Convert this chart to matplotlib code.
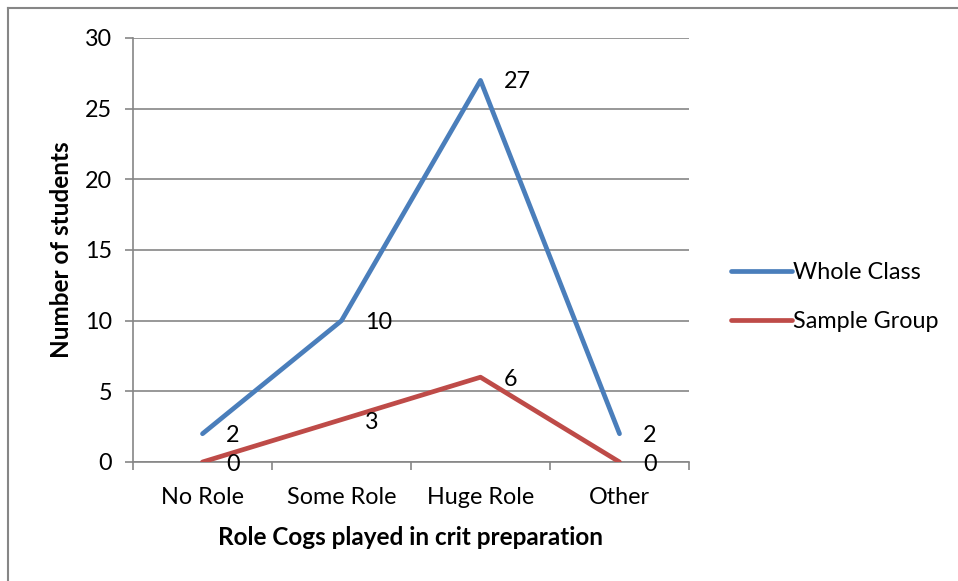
import matplotlib.pyplot as plt
from matplotlib.lines import Line2D

categories = ['No Role', 'Some Role', 'Huge Role', 'Other']
whole_class = [2, 10, 27, 2]
sample_group = [0, 3, 6, 0]

plt.rcParams['font.family'] = ['Lato', 'DejaVu Sans']

fig = plt.figure(figsize=(9.58, 5.81), dpi=100)
ax = fig.add_axes([133 / 958, 1 - 462 / 581, 556 / 958, 424 / 581])

grey = '#868686'
blue = '#4A7EBB'
red = '#BE4B48'
fs = 16.8

x = list(range(len(categories)))
ax.plot(x, whole_class, color=blue, lw=3.4, solid_capstyle='round', label='Whole Class', zorder=3)
ax.plot(x, sample_group, color=red, lw=3.4, solid_capstyle='round', label='Sample Group', zorder=3)

# value labels sit just right of each point
for xi, v in zip(x, whole_class):
    ax.annotate(str(v), (xi, v), xytext=(17, -1), textcoords='offset points',
                ha='left', va='center', fontsize=fs)
for xi, v in zip(x, sample_group):
    ax.annotate(str(v), (xi, v), xytext=(17, -2), textcoords='offset points',
                ha='left', va='center', fontsize=fs)

ax.set_xlim(-0.5, 3.5)
ax.set_ylim(0, 30)
ax.set_yticks(range(0, 31, 5))
ax.yaxis.grid(True, color=grey, lw=1.2)
ax.set_axisbelow(True)

ax.set_xticks(x)
ax.set_xticklabels(categories)
ax.set_xticks([-0.5, 0.5, 1.5, 2.5, 3.5], minor=True)
ax.tick_params(axis='x', which='major', length=0, pad=18, labelsize=fs)
ax.tick_params(axis='x', which='minor', length=6, color=grey, width=1.2, direction='out')
ax.tick_params(axis='y', length=6, color=grey, width=1.2, pad=9, labelsize=fs)

for side in ['top', 'right']:
    ax.spines[side].set_visible(False)
for side in ['left', 'bottom']:
    ax.spines[side].set_color(grey)
    ax.spines[side].set_linewidth(1.2)

ax.set_xlabel('Role Cogs played in crit preparation', fontsize=17.5, fontweight='bold', labelpad=13)
ax.set_ylabel('Number of students', fontsize=17.5, fontweight='bold', labelpad=9)

handles = [Line2D([0], [0], color=blue, lw=3.4, solid_capstyle='round'),
           Line2D([0], [0], color=red, lw=3.4, solid_capstyle='round')]
fig.legend(handles, ['Whole Class', 'Sample Group'], loc='center left',
           bbox_to_anchor=(710 / 958, 1 - 297 / 581), frameon=False, fontsize=fs,
           handlelength=2.6, handletextpad=0.05, labelspacing=1.2)

# outer frame, only left and top edges show
fig.add_artist(Line2D([8 / 958, 8 / 958], [0, 1 - 8 / 581], color=grey, lw=1.5))
fig.add_artist(Line2D([8 / 958, 1], [1 - 8 / 581, 1 - 8 / 581], color=grey, lw=1.5))

fig.savefig('out.png', dpi=100)
